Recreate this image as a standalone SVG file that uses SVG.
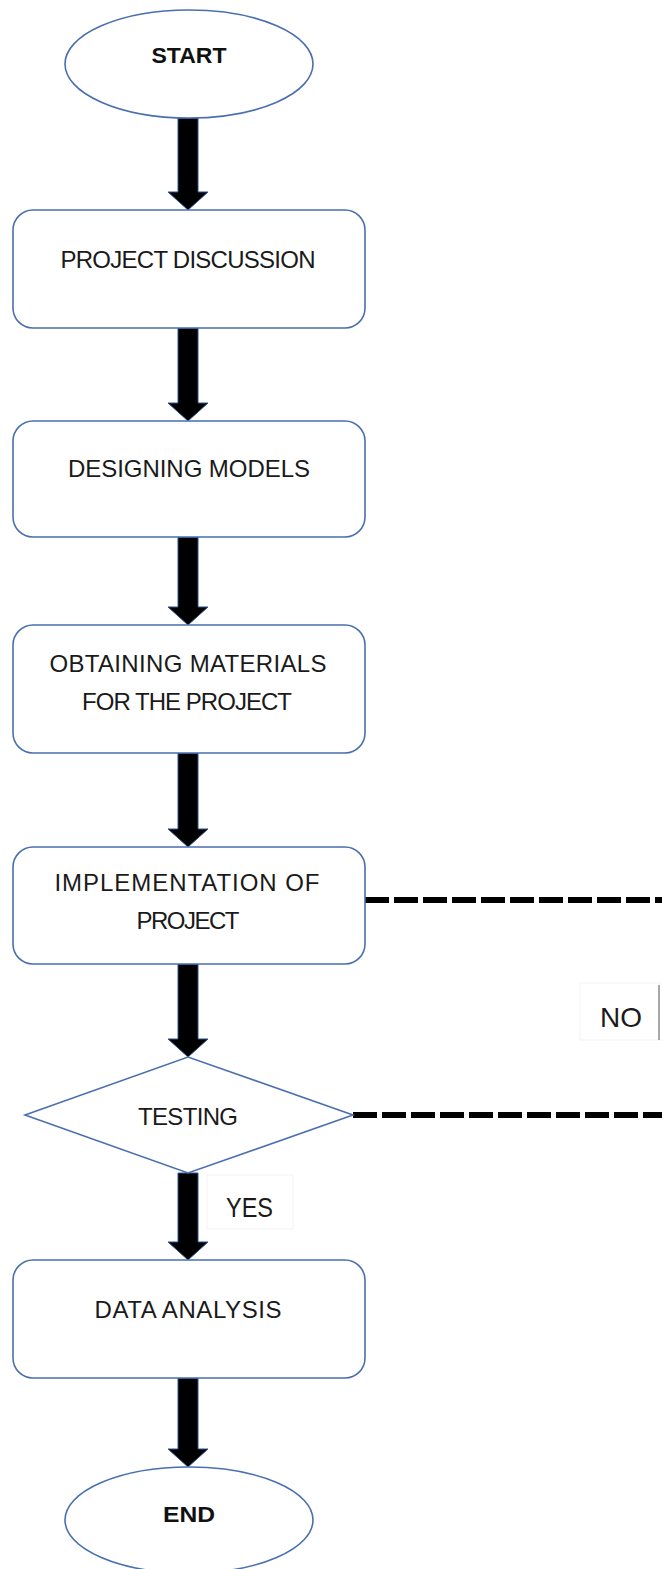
<svg xmlns="http://www.w3.org/2000/svg" width="662" height="1569" viewBox="0 0 662 1569">
<style>
.node{fill:#fff;stroke:#4a6fb0;stroke-width:1.6}
.t{font-family:"Liberation Sans",Arial,sans-serif;font-size:24px;fill:#1a1a1a;text-anchor:middle}
.tb{font-family:"Liberation Sans",Arial,sans-serif;font-size:22px;font-weight:bold;fill:#111;text-anchor:middle}
.lab{font-family:"Liberation Sans",Arial,sans-serif;font-size:28px;fill:#1a1a1a}
.arrow{fill:#000;stroke:#2f528f;stroke-width:1}
.dash{stroke:#000;stroke-width:6;stroke-dasharray:24 5;fill:none}
.lbox{fill:#fff;stroke:#f3f3f3;stroke-width:1}
</style>
<rect width="662" height="1569" fill="#fff"/>
<g id="connectors">
<path class="arrow" d="M178,118 H198 V192 H208 L188,210 L168,192 H178 Z"/>
<path class="arrow" d="M178,328 H198 V403 H208 L188,421 L168,403 H178 Z"/>
<path class="arrow" d="M178,537 H198 V607 H208 L188,625 L168,607 H178 Z"/>
<path class="arrow" d="M178,753 H198 V829 H208 L188,847 L168,829 H178 Z"/>
<path class="arrow" d="M178,964 H198 V1039 H208 L188,1057 L168,1039 H178 Z"/>
<path class="arrow" d="M178,1173 H198 V1242 H208 L188,1260 L168,1242 H178 Z"/>
<path class="arrow" d="M178,1378 H198 V1449 H208 L188,1467 L168,1449 H178 Z"/>
<line class="dash" x1="365" y1="900" x2="662" y2="900"/>
<line class="dash" x1="353" y1="1115" x2="662" y2="1115"/>
</g>
<g id="label-no">
<rect class="lbox" x="580" y="983" width="90" height="57"/>
<line x1="659" y1="985" x2="659" y2="1040" stroke="#a8a8a8" stroke-width="2"/>
<text class="lab" x="600" y="1027" textLength="42" lengthAdjust="spacingAndGlyphs">NO</text>
</g>
<g id="label-yes">
<rect class="lbox" x="207" y="1175" width="86" height="54"/>
<text class="lab" x="226" y="1217" textLength="47" lengthAdjust="spacingAndGlyphs">YES</text>
</g>
<g id="start">
<ellipse class="node" cx="189" cy="64" rx="124" ry="54"/>
<text class="tb" x="189" y="63" textLength="75" lengthAdjust="spacingAndGlyphs">START</text>
</g>
<g id="project-discussion">
<rect class="node" x="13" y="210" width="352" height="118" rx="20"/>
<text class="t" x="188" y="268" textLength="255" lengthAdjust="spacing">PROJECT DISCUSSION</text>
</g>
<g id="designing-models">
<rect class="node" x="13" y="421" width="352" height="116" rx="20"/>
<text class="t" x="189" y="477" textLength="242" lengthAdjust="spacing">DESIGNING MODELS</text>
</g>
<g id="obtaining-materials">
<rect class="node" x="13" y="625" width="352" height="128" rx="20"/>
<text class="t" x="188" y="672" textLength="277" lengthAdjust="spacing">OBTAINING MATERIALS</text>
<text class="t" x="187" y="710" textLength="210" lengthAdjust="spacing">FOR THE PROJECT</text>
</g>
<g id="implementation">
<rect class="node" x="13" y="847" width="352" height="117" rx="20"/>
<text class="t" x="187" y="891" textLength="265" lengthAdjust="spacing">IMPLEMENTATION OF</text>
<text class="t" x="188" y="929" textLength="103" lengthAdjust="spacing">PROJECT</text>
</g>
<g id="testing">
<polygon class="node" points="25,1115 188,1057 353,1115 188,1173"/>
<text class="t" x="188" y="1125" textLength="100" lengthAdjust="spacing">TESTING</text>
</g>
<g id="data-analysis">
<rect class="node" x="13" y="1260" width="352" height="118" rx="20"/>
<text class="t" x="188" y="1318" textLength="187" lengthAdjust="spacing">DATA ANALYSIS</text>
</g>
<g id="end">
<ellipse class="node" cx="189" cy="1520" rx="124" ry="53"/>
<text class="tb" x="189" y="1522" textLength="52" lengthAdjust="spacingAndGlyphs">END</text>
</g>
</svg>
